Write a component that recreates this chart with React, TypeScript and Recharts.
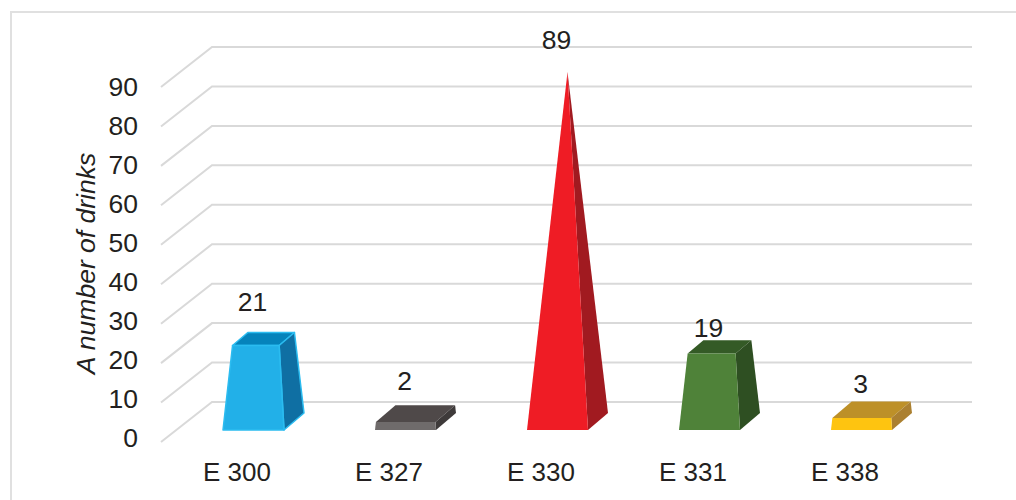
import { BarChart, Bar, XAxis, YAxis, CartesianGrid, LabelList } from "recharts";

const additives = ["E 300", "E 327", "E 330", "E 331", "E 338"];
const drinkCounts = [21, 2, 89, 19, 3];
const countTicks = [0, 10, 20, 30, 40, 50, 60, 70, 80, 90];

const faceColors = [
  { front: "#22b0e8", side: "#0f6fa3", top: "#0583bb", edge: "#2bbcf0" },
  { front: "#6f6b6b", side: "#3e3a3a", top: "#4f4949", edge: "none" },
  { front: "#ef1c25", side: "#a11a20", top: "#a11a20", edge: "none" },
  { front: "#4f8239", side: "#2e4f22", top: "#345a26", edge: "none" },
  { front: "#fec410", side: "#ab8030", top: "#bd9028", edge: "none" },
];

// how far each value label sits above its bar's front top edge
const labelLift = [44, 41, 32, 26, 34];

const chartData = additives.map((name, i) => ({ name, count: drinkCounts[i] }));
const peakCount = Math.max(...drinkCounts);

const TEXT = "#231f20";
const GRID = "#d9d9d9";
const FONT = "'Liberation Sans', Arial, sans-serif";

// floor projection: wall to front-left corner of the grid
const WALL_DX = -51;
const WALL_DY = 40;
// bar footprint relative to the wall
const BASE_DX = -35;
const BASE_DY = 28;
const DEPTH_DX = 20;
const DEPTH_DY = -17;
// front face reads slightly taller than the wall scale
const FRONT_SCALE = 1.02;

function frontTop(y: number, height: number) {
  const baseY = y + height + BASE_DY;
  return baseY - height * FRONT_SCALE;
}

function PyramidBar(props: any) {
  const { x, y, width, height, index, payload } = props;
  const c = faceColors[index];
  const t = payload.count / peakCount;
  const baseY = y + height + BASE_DY;
  const left = x + BASE_DX;
  const apexHeight = (height * FRONT_SCALE) / t;
  const apex = { x: left + width / 2 + DEPTH_DX / 2, y: baseY - apexHeight };

  const fl = { x: left, y: baseY };
  const fr = { x: left + width, y: baseY };
  const br = { x: fr.x + DEPTH_DX, y: baseY + DEPTH_DY };
  const bl = { x: fl.x + DEPTH_DX, y: baseY + DEPTH_DY };
  // every corner slides toward the apex by the value's share of the peak
  const up = (p: { x: number; y: number }) => ({
    x: p.x + (apex.x - p.x) * t,
    y: p.y + (apex.y - p.y) * t,
  });
  const pts = (...list: { x: number; y: number }[]) =>
    list.map((p) => `${p.x},${p.y}`).join(" ");

  const stroke = c.edge;
  return (
    <g strokeWidth={c.edge === "none" ? 0 : 1.5} strokeLinejoin="round">
      <polygon points={pts(up(fl), up(fr), up(br), up(bl))} fill={c.top} stroke={stroke} />
      <polygon points={pts(fr, br, up(br), up(fr))} fill={c.side} stroke={stroke} />
      <polygon points={pts(fl, fr, up(fr), up(fl))} fill={c.front} stroke={stroke} />
    </g>
  );
}

function ValueLabel(props: any) {
  const { x, y, width, height, value, index } = props;
  return (
    <text
      x={x + BASE_DX + width / 2 - 1}
      y={frontTop(y, height) - labelLift[index]}
      textAnchor="middle"
      dominantBaseline="central"
      fontSize={26.5}
      fontFamily={FONT}
      fill={TEXT}
    >
      {value}
    </text>
  );
}

function GridLine(props: any) {
  const { x1, y1, x2, y2 } = props;
  return (
    <polyline
      key={`grid-${y1}`}
      points={`${x1 + WALL_DX},${y1 + WALL_DY} ${x1},${y1} ${x2},${y2}`}
      fill="none"
      stroke={GRID}
      strokeWidth={2}
    />
  );
}

function CountTick(props: any) {
  const { x, y, payload } = props;
  return (
    <text
      x={x - 74}
      y={y + 36 + (payload.value / 90) * 4}
      textAnchor="end"
      dominantBaseline="central"
      fontSize={26.5}
      fontFamily={FONT}
      fill={TEXT}
    >
      {payload.value}
    </text>
  );
}

function AdditiveTick(props: any) {
  const { x, y, payload } = props;
  return (
    <text
      x={x - 51}
      y={y + 70}
      textAnchor="middle"
      dominantBaseline="central"
      fontSize={26}
      fontFamily={FONT}
      fill={TEXT}
    >
      {payload.value}
    </text>
  );
}

export default function App() {
  return (
    <div
      style={{
        position: "absolute",
        left: 0,
        top: 0,
        width: 1016,
        height: 500,
        overflow: "hidden",
        background: "#fff",
      }}
    >
      <div
        style={{
          position: "absolute",
          left: 10,
          top: 11,
          width: 1100,
          height: 600,
          border: "2px solid #e0e0e0",
        }}
      />
      <div style={{ position: "absolute", left: 0, top: 0 }}>
        <BarChart
          width={1016}
          height={500}
          data={chartData}
          margin={{ top: 47, right: 44, bottom: 8, left: 152 }}
        >
          <CartesianGrid vertical={false} horizontal={GridLine} />
          <XAxis
            dataKey="name"
            axisLine={false}
            tickLine={false}
            tickSize={0}
            tickMargin={0}
            height={90}
            interval={0}
            tick={AdditiveTick}
          />
          <YAxis
            domain={[0, 90]}
            ticks={countTicks}
            interval={0}
            width={60}
            axisLine={false}
            tickLine={false}
            tickSize={0}
            tickMargin={0}
            tick={CountTick}
            label={{
              value: "A number of drinks",
              angle: -90,
              position: "center",
              dx: -96,
              dy: 39,
              fontSize: 26.5,
              fontStyle: "italic",
              fontFamily: FONT,
              fill: TEXT,
            }}
          />
          <Bar dataKey="count" barSize={61} shape={PyramidBar} isAnimationActive={false}>
            <LabelList dataKey="count" content={ValueLabel} />
          </Bar>
        </BarChart>
      </div>
    </div>
  );
}
